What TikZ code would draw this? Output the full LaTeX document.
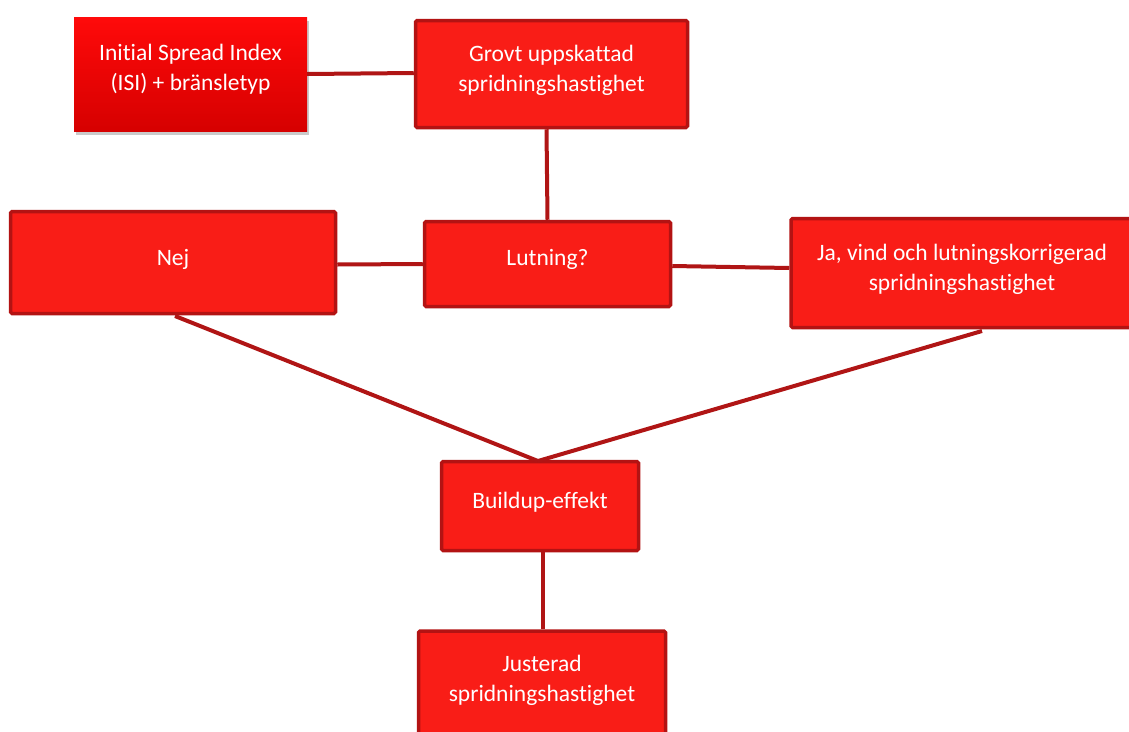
\documentclass[tikz,border=0pt]{standalone}
\usepackage{fontspec}
\setmainfont{Carlito}[Ligatures=NoCommon]
\usetikzlibrary{shadows,calc}
\definecolor{boxfill}{HTML}{F91D17}
\definecolor{boxedge}{HTML}{B31313}
\definecolor{linec}{HTML}{B01515}
\definecolor{gradtop}{HTML}{FF0A0A}
\definecolor{gradbot}{HTML}{D60000}
\tikzset{
  boxfont/.style={font=\fontsize{23.5}{30}\selectfont},
  stepbox/.style={draw=boxedge, line width=3.5pt, fill=boxfill, rounded corners=1.5pt, inner sep=0pt},
  boxtext/.style={text=white, align=center, inner sep=0pt, boxfont},
  isibox/.style={top color=gradtop, bottom color=gradbot, draw=none, inner sep=0pt, drop shadow={shadow xshift=2pt, shadow yshift=-4pt, opacity=0.35, fill=black!60}},
  conn/.style={draw=linec, line width=4pt}
}
\begin{document}
\begin{tikzpicture}[x=1pt,y=-1pt]
\useasboundingbox (0,0) rectangle (1129,731);
% boxes
\node[isibox, minimum width=233pt, minimum height=114pt] (isi) at (190.5,74) {};
\node[boxtext] at (190.5,69) {Initial Spread Index\\(ISI) + bränsletyp};
\node[stepbox, minimum width=272pt, minimum height=107pt] (grovt) at (551.5,74) {};
\node[boxtext] at (551.5,70) {Grovt uppskattad\\spridningshastighet};
\node[stepbox, minimum width=325pt, minimum height=102pt] (nej) at (173,262.5) {};
\node[boxtext] at (173,259) {Nej};
\node[stepbox, minimum width=246pt, minimum height=85pt] (lut) at (547.5,264) {};
\node[boxtext] at (547.5,259) {Lutning?};
\node[stepbox, minimum width=350pt, minimum height=109pt] (ja) at (966,273) {};
\node[boxtext] at (962,269) {Ja, vind och lutningskorrigerad\\spridningshastighet};
\node[stepbox, minimum width=197pt, minimum height=89pt] (bu) at (540,506) {};
\node[boxtext] at (540,502) {Buildup-effekt};
\node[stepbox, minimum width=247pt, minimum height=120pt] (jus) at (542,691) {};
\node[boxtext] at (542,680) {Justerad\\spridningshastighet};
% connectors
\coordinate (meet) at (538,461);
\draw[conn] (isi.east) -- ($(grovt.west)+(0,-1)$);
\draw[conn] ($(grovt.south)+(-5,0)$) -- ($(lut.north)+(0,0)$);
\draw[conn] ($(nej.east)+(0,2)$) -- (lut.west);
\draw[conn] ($(lut.east)+(0,2)$) -- ($(ja.west)+(0,-5)$);
\draw[conn] (175,316) -- (meet);
\draw[conn] (982,331) -- (meet);
\draw[conn] ($(bu.south)+(3,0)$) -- ($(jus.north)+(1,0)$);
\end{tikzpicture}
\end{document}
